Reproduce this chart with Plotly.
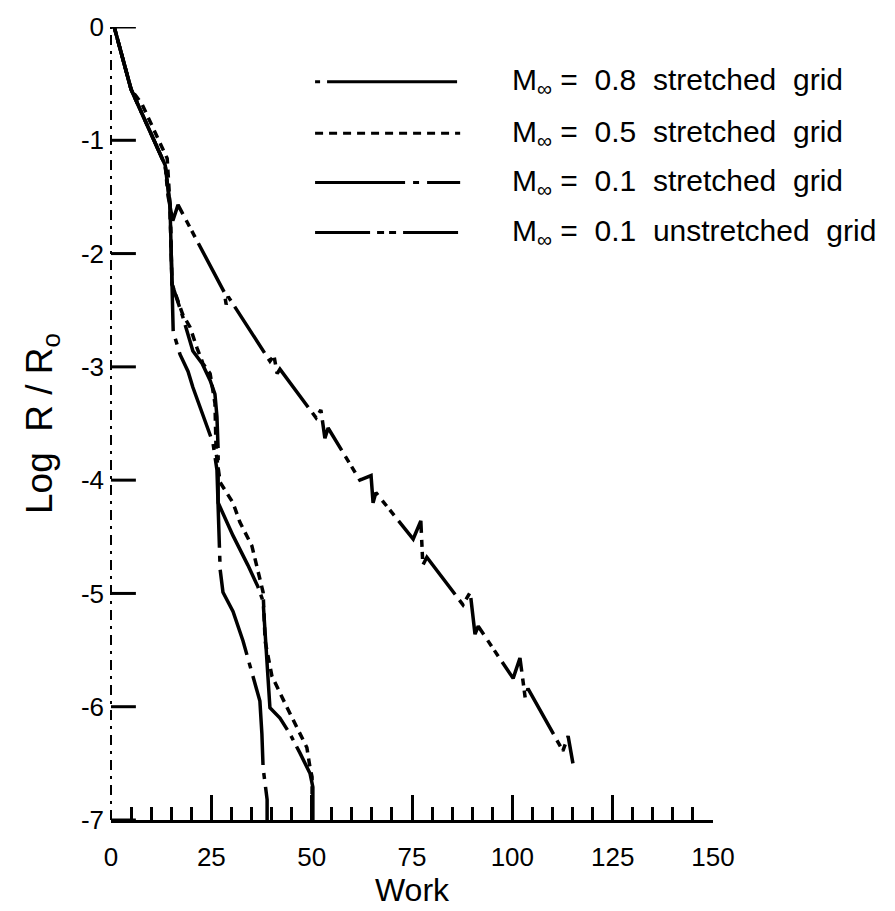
import plotly.graph_objects as go

# ---- data (Work, log R/R0) ----
m08_work = [0.8, 5.0, 13.5, 14.7, 15.2, 17.9, 20.4, 22.7, 24.7, 25.9, 26.4, 26.7, 26.7,
            30.4, 34.1, 36.6, 37.9, 38.4, 38.9, 39.1, 39.6, 42.1, 44.6, 47.1, 49.6, 50.3, 50.3]
m08_logr = [0.0, -0.55, -1.22, -1.57, -2.27, -2.56, -2.86, -2.97, -3.12, -3.24, -3.44, -3.74, -4.20,
            -4.49, -4.75, -4.94, -5.07, -5.36, -5.66, -5.84, -6.01, -6.10, -6.24, -6.41, -6.59, -6.71, -7.0]

m05_work = [0.8, 5.0, 7.7, 14.0, 14.7, 15.2, 17.9, 19.7, 21.4, 22.9, 24.7, 25.9, 26.2, 27.2,
            30.4, 32.1, 35.1, 36.6, 37.9, 38.4, 40.1, 43.9, 46.3, 48.8, 49.6, 50.1, 50.1]
m05_logr = [0.0, -0.55, -0.68, -1.16, -1.57, -2.27, -2.54, -2.65, -2.83, -2.97, -3.06, -3.32, -3.76, -4.02,
            -4.20, -4.37, -4.58, -4.79, -4.99, -5.42, -5.73, -6.01, -6.19, -6.36, -6.54, -6.62, -7.0]

m01s_work = [0.8, 5.0, 13.5, 14.7, 15.2, 15.5, 17.2, 19.2, 20.4, 22.2, 23.9, 25.4, 26.4, 26.7,
             27.2, 27.9, 30.4, 32.9, 35.1, 36.4, 37.1, 37.6, 37.9, 38.9, 38.9]
m01s_logr = [0.0, -0.55, -1.22, -1.57, -2.27, -2.69, -2.89, -3.04, -3.18, -3.35, -3.53, -3.67, -3.91, -4.20,
             -4.79, -4.99, -5.16, -5.42, -5.69, -5.84, -5.95, -6.24, -6.54, -6.82, -7.0]

m01u_work = [0.8, 5.0, 13.5, 14.2, 15.4, 16.7, 28.2, 28.7, 29.2, 39.6, 40.6, 41.4, 42.1,
             51.1, 52.3, 53.3, 54.1, 62.0, 64.8, 65.3, 66.0, 75.3, 77.2, 77.7, 78.7,
             87.7, 89.5, 90.7, 91.5, 100.2, 101.9, 103.2, 103.9, 112.6, 113.9, 115.1]
m01u_logr = [0.0, -0.55, -1.22, -1.49, -1.71, -1.57, -2.34, -2.45, -2.38, -2.95, -2.90, -3.06, -3.02,
             -3.45, -3.38, -3.63, -3.54, -4.00, -3.96, -4.20, -4.11, -4.52, -4.36, -4.75, -4.68,
             -5.10, -4.99, -5.36, -5.29, -5.75, -5.57, -5.92, -5.84, -6.39, -6.26, -6.50]

legend_labels = ["M<sub>∞</sub> =  0.8  stretched  grid",
                 "M<sub>∞</sub> =  0.5  stretched  grid",
                 "M<sub>∞</sub> =  0.1  stretched  grid",
                 "M<sub>∞</sub> =  0.1  unstretched  grid"]
x_tick_vals = [0, 25, 50, 75, 100, 125, 150]
x_tick_text = ["0", "25", "50", "75", "100", "125", "150"]
y_tick_vals = [0, -1, -2, -3, -4, -5, -6, -7]
y_tick_text = ["0", "-1", "-2", "-3", "-4", "-5", "-6", "-7"]

dashes = ["5px,7px,130px,7px", "8px,6px", "90px,8px,6px,8px", "55px,7px,7px,5px,7px,7px"]
series = [(m08_work, m08_logr), (m05_work, m05_logr), (m01s_work, m01s_logr), (m01u_work, m01u_logr)]

FONT = "Liberation Sans, Arial, sans-serif"
fig = go.Figure()
for (wx, ly), d, name in zip(series, dashes, legend_labels):
    fig.add_trace(go.Scatter(x=wx, y=ly, mode="lines", name=name, showlegend=False,
                             line=dict(color="black", width=3.5, dash=d, shape="linear")))

# inward y-axis tick marks (one short segment per labelled value)
TICK_LEN_WORK = 6.2
tick_x, tick_y = [], []
for v in y_tick_vals:
    tick_x += [0, TICK_LEN_WORK, None]
    tick_y += [v, v, None]
fig.add_trace(go.Scatter(x=tick_x, y=tick_y, mode="lines", showlegend=False, hoverinfo="skip",
                         cliponaxis=False, line=dict(color="black", width=3)))

# manual legend (long line samples as in the reference)
row_y = [0.931, 0.866, 0.804, 0.741]
for yy, d, name in zip(row_y, dashes, legend_labels):
    fig.add_shape(type="line", xref="paper", yref="paper", x0=0.339, x1=0.580, y0=yy, y1=yy,
                  line=dict(color="black", width=3, dash=d))
    fig.add_annotation(xref="paper", yref="paper", x=0.663, y=yy, text=name, showarrow=False,
                       xanchor="left", yanchor="middle", font=dict(family=FONT, size=30, color="black"))

# left axis drawn as a broken (scanned) line
fig.add_shape(type="line", xref="paper", yref="paper", x0=0, x1=0, y0=0, y1=1,
              line=dict(color="black", width=2, dash="10px,6px,3px,6px"))

fig.update_layout(
    width=895, height=911,
    margin=dict(l=111, r=182, t=20, b=91),
    paper_bgcolor="white", plot_bgcolor="white",
    font=dict(family=FONT, color="black"),
    xaxis=dict(range=[0, 150], showgrid=False, zeroline=False, showline=True, linecolor="black", linewidth=3,
               tickvals=x_tick_vals, ticktext=x_tick_text, ticks="inside", ticklen=25, tickwidth=3,
               tickcolor="black", tickfont=dict(size=26, family=FONT), ticklabelstandoff=12,
               minor=dict(dtick=5, ticks="inside", ticklen=13, tickwidth=2.5, tickcolor="black", showgrid=False),
               title=dict(text="Work", font=dict(size=32, family=FONT), standoff=2)),
    yaxis=dict(range=[-7, 0], showgrid=False, zeroline=False, showline=False,
               tickmode="array", tickvals=y_tick_vals, ticktext=y_tick_text,
               ticks="", ticklabelstandoff=6,
               tickfont=dict(size=26, family=FONT),
               title=dict(text="Log  R / R<sub>o</sub>", font=dict(size=37, family=FONT), standoff=16)),
)
fig.write_html("out.html")
